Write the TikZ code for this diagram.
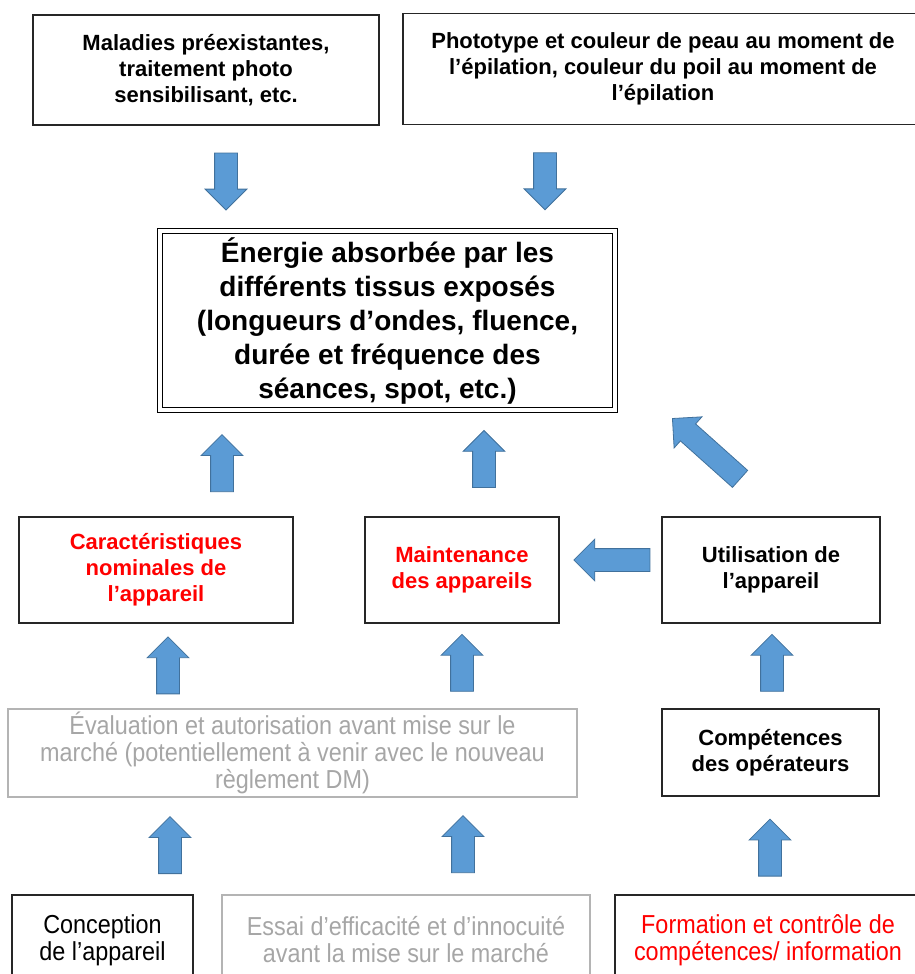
\documentclass[tikz,border=0pt]{standalone}
\usepackage{fontspec}
\setmainfont{Liberation Sans}
\newfontfamily\narrowfont[FakeStretch=0.9]{Liberation Sans}
\usetikzlibrary{shapes.arrows}
\definecolor{arrfill}{HTML}{5B9BD5}
\definecolor{arredge}{HTML}{41719C}
\definecolor{redtxt}{HTML}{FF0000}
\definecolor{greytxt}{HTML}{A6A6A6}
\definecolor{greybox}{HTML}{B4B4B4}
\begin{document}
\begin{tikzpicture}[x=0.75pt,y=-0.75pt,
  box/.style={draw=black!85,line width=1.1pt,align=center,inner sep=0pt,
    font=\bfseries\fontsize{16.5}{19.5}\selectfont},
  nbox/.style={box,font=\narrowfont\fontsize{19.5}{20.25}\selectfont},
  blk/.style={sloped,allow upside down,single arrow,draw=arredge,fill=arrfill,
    line width=.6pt,inner xsep=0pt,inner ysep=8.25pt,minimum width=0pt,
    minimum height=42.75pt,single arrow head extend=7.1pt,
    single arrow tip angle=90}]
\useasboundingbox (0,0) rectangle (914,974);
% top row
\node[box,minimum width=259.5pt,minimum height=82.5pt] (mal) at (206,70)
  {Maladies préexistantes,\\traitement photo\\sensibilisant, etc.};
\node[box,minimum width=390pt,minimum height=83.25pt] (pho) at (663,69)
  {Phototype et couleur de peau au moment de\\l’épilation, couleur du poil au moment de\\l’épilation};
\node[box,double,double distance=2.4pt,line width=1.4pt,draw=black,
  minimum width=341.25pt,minimum height=134.25pt,
  font=\bfseries\fontsize{21}{25.5}\selectfont] (nrg) at (387.5,320.5)
  {Énergie absorbée par les\\différents tissus exposés\\(longueurs d’ondes, fluence,\\durée et fréquence des\\séances, spot, etc.)};
% middle row
\node[box,text=redtxt,minimum width=205.5pt,minimum height=79.5pt] (car) at (156,570)
  {Caractéristiques\\nominales de\\l’appareil};
\node[box,text=redtxt,minimum width=145.5pt,minimum height=79.5pt] (mai) at (462,570)
  {Maintenance\\des appareils};
\node[box,minimum width=163.5pt,minimum height=79.5pt] (uti) at (771,570)
  {Utilisation de\\l’appareil};
\node[nbox,draw=greybox,text=greytxt,minimum width=426.75pt,minimum height=66pt] (eva) at (292.5,753)
  {Évaluation et autorisation avant mise sur le\\marché (potentiellement à venir avec le nouveau\\règlement DM)};
\node[box,minimum width=162.75pt,minimum height=65.25pt] (com) at (770.5,752.5)
  {Compétences\\des opérateurs};
% bottom row
\node[nbox,minimum width=135.75pt,minimum height=67.5pt] (con) at (102.5,940)
  {Conception\\de l’appareil};
\node[nbox,draw=greybox,text=greytxt,minimum width=276pt,minimum height=67.5pt] (ess) at (406,940)
  {Essai d’efficacité et d’innocuité\\avant la mise sur le marché};
\node[nbox,text=redtxt,minimum width=229.5pt,minimum height=67.5pt] (for) at (768,940)
  {Formation et contrôle de\\compétences/ information};
% arrows
\path (mal.south -| 226,0) -- (nrg.north -| 226,0) node[blk,pos=.48]{};
\path (pho.south -| 545,0) -- (nrg.north -| 545,0) node[blk,pos=.48]{};
\path (car.north -| 222,0) -- (nrg.south -| 222,0) node[blk,pos=.45]{};
\path (mai.north -| 484,0) -- (nrg.south -| 484,0) node[blk,pos=.49]{};
\coordinate (dgt) at (748,486);
\coordinate (dgh) at (673,419);
\path (dgt) -- (dgh) node[blk,midway,minimum height=68pt]{};
\path (uti.west |- 0,560) -- (mai.east |- 0,560) node[blk,pos=.43,minimum height=57pt]{};
\path (eva.north -| 168,0) -- (car.south -| 168,0) node[blk,pos=.44]{};
\path (eva.north -| 462,0) -- (mai.south -| 462,0) node[blk,pos=.47]{};
\path (com.north -| 772,0) -- (uti.south -| 772,0) node[blk,pos=.47]{};
\path (con.north -| 170,0) -- (eva.south -| 170,0) node[blk,pos=.45]{};
\path (ess.north -| 463,0) -- (eva.south -| 463,0) node[blk,pos=.46]{};
\path (for.north -| 770,0) -- (com.south -| 770,0) node[blk,pos=.42]{};
\end{tikzpicture}
\end{document}
